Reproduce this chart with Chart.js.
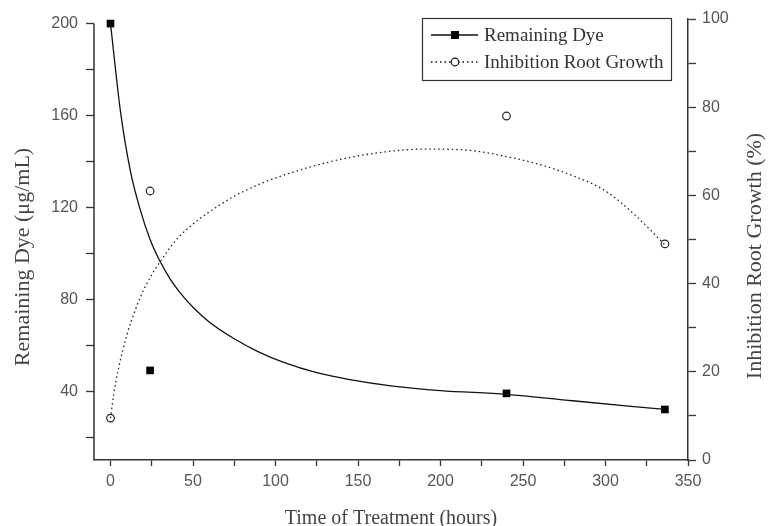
<!DOCTYPE html>
<html>
<head>
<meta charset="utf-8">
<script src="https://cdn.jsdelivr.net/npm/chart.js@4/dist/chart.umd.min.js"></script>
<style>
  html, body { margin: 0; padding: 0; background: #fff; }
  #wrap { width: 771px; height: 526px; }
</style>
</head>
<body>
<div id="wrap"><canvas id="grafica" width="771" height="526"></canvas></div>
<script>
// ================= DATOS =================
// puntos medidos
const tiempos       = [0, 24, 240, 336];
const tinteRestante = [200, 49, 39, 32];
const inhibicion    = [9.5, 61, 78, 49];

// curvas de ajuste
const ajusteTinteX = [0, 6, 12, 18, 24, 30, 36, 42, 50, 60, 75, 90, 105, 125, 145, 170, 200, 240, 280, 336];
const ajusteTinteY = [200, 162, 136, 119, 106, 96.5, 89, 83, 76.5, 70, 62.8, 57, 52.5, 48, 45, 42.3, 40.2, 38.6, 35.8, 32];
const ajusteInhX = [0, 2, 5, 10, 15, 20, 25, 32, 40, 50, 60, 75, 90, 105, 135, 165, 190, 215, 240, 260, 280, 300, 318, 336];
const ajusteInhY = [9.5, 15, 21, 28.5, 34, 38.5, 42, 46, 50, 53.5, 56.3, 59.8, 62.5, 64.6, 67.8, 69.8, 70.5, 70.3, 68.8, 67, 64.5, 61, 55.5, 48.8];

// ticks de ejes
const ticksX   = [0, 25, 50, 75, 100, 125, 150, 175, 200, 225, 250, 275, 300, 325, 350];
const ticksIzq = [20, 40, 60, 80, 100, 120, 140, 160, 180, 200];
const ticksDer = [0, 10, 20, 30, 40, 50, 60, 70, 80, 90, 100];

const etiquetas = ['Remaining Dye', 'Inhibition Root Growth'];

const pares = (xs, ys) => xs.map((x, i) => ({ x, y: ys[i] }));
const fijarTicks = lista => scale => { scale.ticks = lista.map(v => ({ value: v })); };

const serif = '"Liberation Serif", "Times New Roman", serif';
const sans  = '"Liberation Sans", Arial, sans-serif';
const ejeColor = '#333';
const textoTick = '#555';

function tituloVertical(ctx, texto, x, y) {
    ctx.save();
    ctx.fillStyle = '#444';
    ctx.font = '22px ' + serif;
    ctx.textAlign = 'center';
    ctx.textBaseline = 'middle';
    ctx.translate(x, y);
    ctx.rotate(-Math.PI / 2);
    ctx.fillText(texto, 0, 0);
    ctx.restore();
}

// ================= PLUGIN: titulos verticales, eje izq. y leyenda =================
const extras = {
    id: 'extras',
    afterDraw(chart) {
        const ctx = chart.ctx;
        const y = chart.scales.y;

        // linea del eje izquierdo (termina en el tick 200)
        ctx.save();
        ctx.strokeStyle = ejeColor;
        ctx.lineWidth = 1.5;
        ctx.beginPath();
        ctx.moveTo(y.right, y.getPixelForValue(200));
        ctx.lineTo(y.right, chart.chartArea.bottom);
        ctx.stroke();
        ctx.restore();

        tituloVertical(ctx, 'Remaining Dye (\u03bcg/mL)', 23, 257);
        tituloVertical(ctx, 'Inhibition Root Growth (%)', 755, 256);

        // leyenda
        ctx.save();
        ctx.strokeStyle = '#333';
        ctx.lineWidth = 1.2;
        ctx.strokeRect(422.5, 18.5, 249, 62);
        const filas = [35, 62];
        filas.forEach((fy, i) => {
            ctx.beginPath();
            ctx.strokeStyle = '#111';
            ctx.lineWidth = 1.3;
            ctx.setLineDash(i === 0 ? [] : [1.5, 3]);
            ctx.moveTo(431, fy);
            ctx.lineTo(478, fy);
            ctx.stroke();
            ctx.setLineDash([]);
            if (i === 0) {
                ctx.fillStyle = '#000';
                ctx.fillRect(451, fy - 4, 8, 8);
            } else {
                ctx.beginPath();
                ctx.fillStyle = '#fff';
                ctx.arc(455, fy, 3.8, 0, Math.PI * 2);
                ctx.fill();
                ctx.lineWidth = 1.2;
                ctx.stroke();
            }
            ctx.fillStyle = '#333';
            ctx.font = '19px ' + serif;
            ctx.textAlign = 'left';
            ctx.textBaseline = 'middle';
            ctx.fillText(etiquetas[i], 484, fy + 1);
        });
        ctx.restore();
    }
};

// ================= GRAFICA =================
new Chart(document.getElementById('grafica'), {
    type: 'scatter',
    data: {
        datasets: [
            {
                label: etiquetas[0] + ' ajuste',
                type: 'line',
                data: pares(ajusteTinteX, ajusteTinteY),
                yAxisID: 'y',
                borderColor: '#111',
                borderWidth: 1.3,
                pointRadius: 0,
                cubicInterpolationMode: 'monotone',
                fill: false
            },
            {
                label: etiquetas[1] + ' ajuste',
                type: 'line',
                data: pares(ajusteInhX, ajusteInhY),
                yAxisID: 'y2',
                borderColor: '#222',
                borderWidth: 1.3,
                borderDash: [1.5, 3],
                pointRadius: 0,
                cubicInterpolationMode: 'monotone',
                fill: false
            },
            {
                label: etiquetas[0],
                data: pares(tiempos, tinteRestante),
                yAxisID: 'y',
                pointStyle: 'rect',
                pointRadius: 5.4,
                backgroundColor: '#000',
                borderColor: '#000',
                borderWidth: 0
            },
            {
                label: etiquetas[1],
                data: pares(tiempos, inhibicion),
                yAxisID: 'y2',
                pointStyle: 'circle',
                pointRadius: 3.8,
                backgroundColor: '#fff',
                borderColor: '#222',
                borderWidth: 1.2
            }
        ]
    },
    options: {
        responsive: false,
        animation: false,
        layout: { padding: { top: 19, left: 0, right: 0, bottom: 0 } },
        plugins: { legend: { display: false }, tooltip: { enabled: false } },
        scales: {
            x: {
                type: 'linear',
                min: -10,
                max: 350,
                afterBuildTicks: fijarTicks(ticksX),
                afterFit: s => { s.height = 66; },
                grid: { drawOnChartArea: false, tickLength: 6, tickColor: ejeColor, tickWidth: 1.3 },
                border: { color: ejeColor, width: 1.5 },
                ticks: {
                    color: textoTick,
                    font: { family: sans, size: 16 },
                    padding: 6,
                    maxRotation: 0,
                    autoSkip: false,
                    callback: v => (v % 50 === 0 ? v : '')
                },
                title: {
                    display: true,
                    text: 'Time of Treatment (hours)',
                    color: '#444',
                    font: { family: serif, size: 20 },
                    padding: { top: 0, bottom: -5 }
                }
            },
            y: {
                type: 'linear',
                position: 'left',
                min: 10,
                max: 202,
                afterBuildTicks: fijarTicks(ticksIzq),
                afterFit: s => { s.width = 94; },
                grid: { drawOnChartArea: false, tickLength: 8, tickColor: ejeColor, tickWidth: 1.3 },
                border: { display: false },
                ticks: {
                    color: textoTick,
                    font: { family: sans, size: 16 },
                    padding: 8,
                    autoSkip: false,
                    callback: v => (v % 40 === 0 ? v : '')
                }
            },
            y2: {
                type: 'linear',
                position: 'right',
                min: 0,
                max: 100,
                afterBuildTicks: fijarTicks(ticksDer),
                afterFit: s => { s.width = 83; },
                grid: { drawOnChartArea: false, tickLength: 8, tickColor: ejeColor, tickWidth: 1.3 },
                border: { color: ejeColor, width: 1.5 },
                ticks: {
                    color: textoTick,
                    font: { family: sans, size: 16 },
                    padding: 6,
                    autoSkip: false,
                    callback: v => (v % 20 === 0 ? v : '')
                }
            }
        }
    },
    plugins: [extras]
});
</script>
</body>
</html>
